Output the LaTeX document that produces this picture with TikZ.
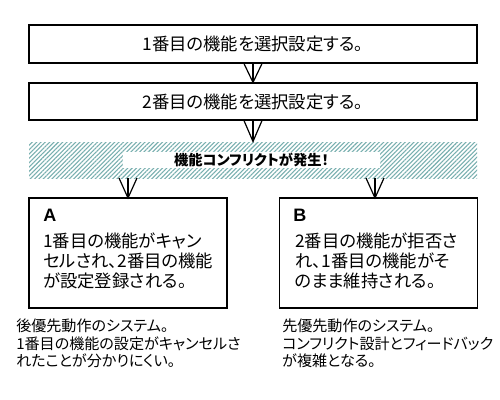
\documentclass[tikz,border=0pt]{standalone}
\usepackage{fontspec}
\newfontfamily\jp[RawFeature=+palt]{Noto Sans CJK JP}
\newfontfamily\lat{Liberation Sans}
\usetikzlibrary{patterns.meta}
\definecolor{hatch}{RGB}{120,175,175}
\tikzset{
  box/.style={draw=black,line width=0.9pt,minimum width=336pt,inner sep=0pt},
  bigtext/.style={font={\jp\fontsize{13pt}{15pt}\selectfont}},
  boxtext/.style={font={\jp\fontsize{13pt}{15pt}\selectfont},align=left,anchor=north west,inner sep=0pt},
  notetext/.style={font={\jp\fontsize{11.3pt}{12.9pt}\selectfont},align=left,anchor=north west,inner sep=0pt},
  letter/.style={font={\lat\bfseries\fontsize{13.5pt}{15pt}\selectfont},anchor=north west,inner sep=0pt},
  vline/.style={line width=0.9pt},
}
\begin{document}
\begin{tikzpicture}[x=0.75pt,y=-0.75pt]
\useasboundingbox[fill=white] (0,0) rectangle (500,400);
% top boxes
\node[box,minimum height=28.5pt,bigtext] (b1) at (253,44) {1番目の機能を選択設定する。};
\node[box,minimum height=27.75pt,bigtext] (b2) at (253,101.5) {2番目の機能を選択設定する。};
% hatched band
\node[minimum width=336pt,minimum height=27pt,inner sep=0pt,
      pattern={Lines[angle=45,distance=2.3pt,line width=0.8pt]},pattern color=hatch] (band) at (253,160) {};
\node[fill=white,minimum width=192.75pt,minimum height=12pt,inner sep=0pt,
      font={\jp\bfseries\fontsize{10.7pt}{12pt}\selectfont}] (conf) at (251.5,160) {機能コンフリクトが発生！};
% boxes A and B
\node[draw=black,line width=0.9pt,minimum width=148.5pt,minimum height=82.5pt,inner sep=0pt] (bA) at (128,253) {};
\node[draw=black,line width=0.9pt,minimum width=148.5pt,minimum height=82.5pt,inner sep=0pt] (bB) at (378.5,253) {};
\coordinate (aL) at (128,178);
\coordinate (aR) at (375,178);
\coordinate (tA) at (128,198);
\coordinate (tB) at (375,198);
% arrows (open V with stem)
\draw[vline] (b1.south) -- (b2.north);
\draw[vline] ([xshift=-6.75pt]b1.south) -- (b2.north) -- ([xshift=6.75pt]b1.south);
\draw[vline] (b2.south) -- (band.north);
\draw[vline] ([xshift=-6.75pt]b2.south) -- (band.north) -- ([xshift=6.75pt]b2.south);
\draw[vline] (aL) -- (tA);
\draw[vline] ([xshift=-6.75pt]aL) -- (tA) -- ([xshift=6.75pt]aL);
\draw[vline] (aR) -- (tB);
\draw[vline] ([xshift=-6.75pt]aR) -- (tB) -- ([xshift=6.75pt]aR);
% box contents
\node[letter] (la) at (43,209) {A};
\node[letter] (lb) at (293,209) {B};
\node[boxtext] (ta) at (43,233) {1番目の機能がキャン\\セルされ、2番目の機能\\が設定登録される。};
\node[boxtext] (tb) at (295,233) {2番目の機能が拒否さ\\れ、1番目の機能がそ\\のまま維持される。};
% notes
\node[notetext] (na) at (16,319) {後優先動作のシステム。\\1番目の機能の設定がキャンセルさ\\れたことが分かりにくい。};
\node[notetext] (nb) at (282,319) {先優先動作のシステム。\\コンフリクト設計とフィードバック\\が複雑となる。};
\end{tikzpicture}
\end{document}
